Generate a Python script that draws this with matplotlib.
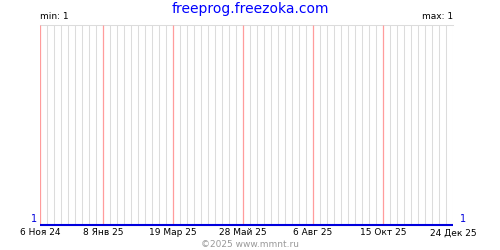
import numpy as np
import pandas as pd
import matplotlib
matplotlib.use("Agg")
import matplotlib.pyplot as plt
import matplotlib.dates as mdates

# данные
dates = pd.to_datetime(["2024-11-06", "2025-12-24"])
values = [1, 1]
label_dates = pd.to_datetime(["2024-11-06", "2025-01-08", "2025-03-19", "2025-05-28",
                              "2025-08-06", "2025-10-15", "2025-12-24"])
label_texts = ["6 Ноя 24", "8 Янв 25", "19 Мар 25", "28 Май 25",
               "6 Авг 25", "15 Окт 25", "24 Дек 25"]
title = "freeprog.freezoka.com"
footer = "©2025 www.mmnt.ru"


def main():
    fig = plt.figure(figsize=(5, 2.5), dpi=100)
    ax = fig.add_axes([0.08, 0.1, 0.826, 0.8])

    start, end = dates[0], dates[-1]
    weeks = mdates.date2num(pd.date_range(start, end, freq="7D"))
    pink = mdates.date2num(label_dates[:-1])
    grey = [w for w in weeks if np.min(np.abs(pink - w)) > 0.5]
    ax.vlines(grey, 1, 2, colors="#dcdcdc", lw=0.75, zorder=1, snap=True)
    ax.vlines(pink, 1, 2, colors="#ff9c9c", lw=0.9, zorder=2, snap=True)
    ax.axhline(2, color="#dcdcdc", lw=0.75, zorder=1, snap=True, clip_on=False)

    ax.plot(dates, values, color="#0000dd", lw=1.5, zorder=3,
            solid_capstyle="butt", clip_on=False)

    ax.set_xlim(start, end)
    ax.set_ylim(1, 2)
    for s in ax.spines.values():
        s.set_visible(False)
    ax.set_yticks([])
    ax.set_xticks(label_dates)
    ax.set_xticklabels(label_texts, fontsize=6.5)
    ax.tick_params(axis="x", length=0, pad=2.5)

    ax.text(0, 1.02, "min: 1", transform=ax.transAxes, fontsize=6.5, ha="left", va="bottom")
    ax.text(1, 1.02, "max: 1", transform=ax.transAxes, fontsize=6.5, ha="right", va="bottom")
    ax.text(-0.008, 0.005, "1", transform=ax.transAxes, fontsize=7, color="#0000dd",
            ha="right", va="bottom")
    ax.text(1.018, 0.005, "1", transform=ax.transAxes, fontsize=7, color="#0000dd",
            ha="left", va="bottom")

    fig.text(0.5, 0.962, title, fontsize=10, color="#0000ff", ha="center", va="center")
    fig.text(0.5, 0.022, footer, fontsize=6.5, color="#999999", ha="center", va="center")

    fig.savefig("out.png", dpi=100)


if __name__ == "__main__":
    main()
